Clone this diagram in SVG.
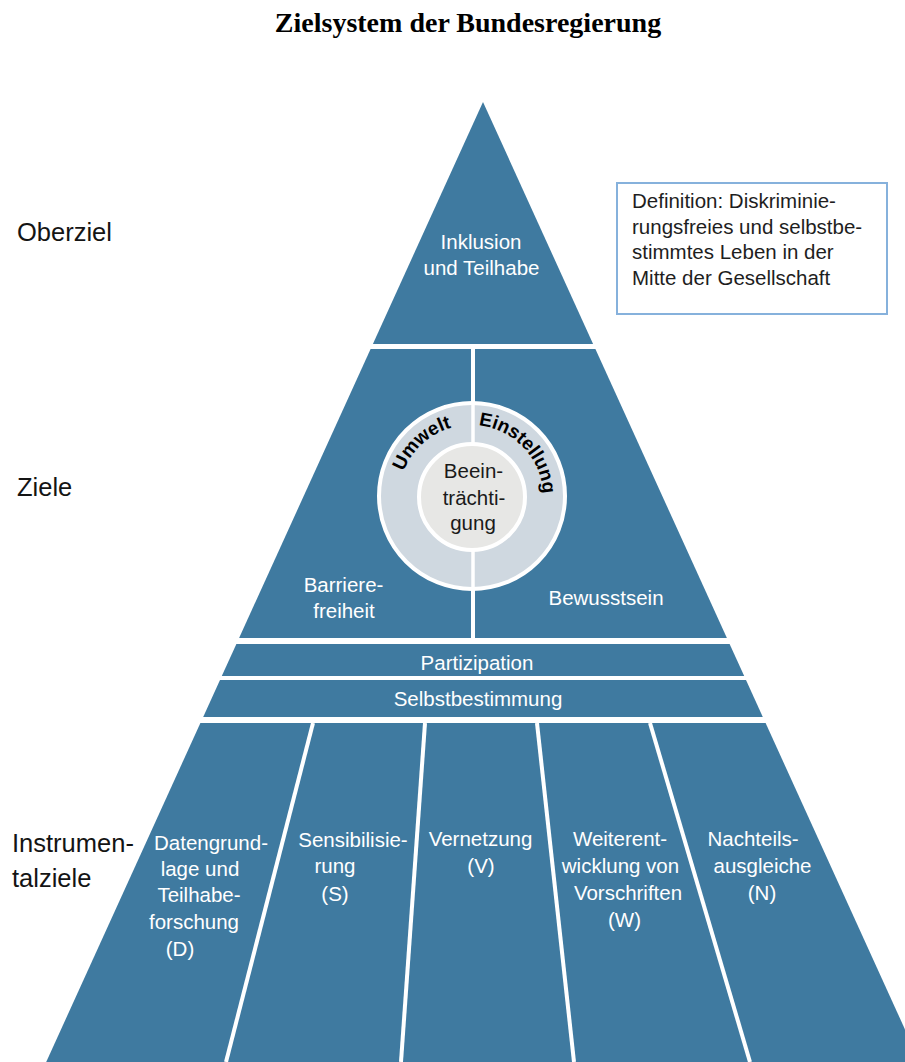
<svg xmlns="http://www.w3.org/2000/svg" xmlns:xlink="http://www.w3.org/1999/xlink" width="905" height="1062" viewBox="0 0 905 1062">
  <style>
    .blk { fill: #3f7aa0; }
    .wt { font-family: "Liberation Sans", Arial, sans-serif; font-size: 20.5px; fill: #ffffff; text-anchor: middle; }
    .lbl { font-family: "Liberation Sans", Arial, sans-serif; font-size: 25.5px; fill: #141414; }
    .def { font-family: "Liberation Sans", Arial, sans-serif; font-size: 20.5px; fill: #1e1e1e; }
    .dk { font-family: "Liberation Sans", Arial, sans-serif; font-size: 20.5px; fill: #1a1a1a; text-anchor: middle; }
    .arc { font-family: "Liberation Sans", Arial, sans-serif; font-size: 19px; font-weight: bold; fill: #000000; }
    .sep { stroke: #ffffff; stroke-width: 4; fill: none; }
  </style>
  <defs>
    <path id="ringPath" d="M 420.1 547.9 A 72 72 0 1 1 521.9 547.9"/>
  </defs>
  <rect x="0" y="0" width="905" height="1062" fill="#ffffff"/>

  <text id="title" x="468" y="32" font-family="'Liberation Serif', 'Times New Roman', serif" font-size="28" font-weight="bold" text-anchor="middle" fill="#000000">Zielsystem der Bundesregierung</text>

  <g id="level-labels">
    <text class="lbl" x="17" y="241">Oberziel</text>
    <text class="lbl" x="17" y="496">Ziele</text>
    <text class="lbl" x="12" y="852">Instrumen-</text>
    <text class="lbl" x="12" y="887">talziele</text>
  </g>

  <g id="oberziel">
    <polygon class="blk" points="483,102 372.9,344 593.1,344"/>
    <text class="wt" x="481" y="249">Inklusion</text>
    <text class="wt" x="481.5" y="275">und Teilhabe</text>
  </g>

  <g id="definition">
    <rect x="617" y="183" width="270" height="131" fill="#ffffff" stroke="#86b1dc" stroke-width="2"/>
    <text class="def" x="632" y="208">Definition: Diskriminie-</text>
    <text class="def" x="632" y="233.5">rungsfreies und selbstbe-</text>
    <text class="def" x="632" y="259">stimmtes Leben in der</text>
    <text class="def" x="632" y="284.5">Mitte der Gesellschaft</text>
  </g>

  <g id="ziele">
    <polygon class="blk" points="370.6,349 595.4,349 726.9,638 239.1,638"/>
    <text class="wt" x="343.5" y="591.5">Barriere-</text>
    <text class="wt" x="344" y="618">freiheit</text>
    <text class="wt" x="606" y="605">Bewusstsein</text>
  </g>

  <g id="umwelt-einstellung">
    <circle cx="472" cy="496" r="93" fill="#cfd8e0" stroke="#ffffff" stroke-width="4"/>
    <line x1="473" y1="404" x2="473" y2="588" stroke="#ffffff" stroke-width="3.5"/>
    <text class="arc"><textPath xlink:href="#ringPath" href="#ringPath" startOffset="116" text-anchor="middle">Umwelt</textPath></text>
    <text class="arc"><textPath xlink:href="#ringPath" href="#ringPath" startOffset="228" text-anchor="middle">Einstellung</textPath></text>
  </g>

  <g id="beeintraechtigung">
    <circle cx="472" cy="497" r="53" fill="#e7e7e5" stroke="#ffffff" stroke-width="4"/>
    <text class="dk" x="473.5" y="478">Beein-</text>
    <text class="dk" x="474" y="505">trächti-</text>
    <text class="dk" x="473" y="530">gung</text>
  </g>

  <g id="partizipation">
    <polygon class="blk" points="236.4,644 729.6,644 744.2,676 221.8,676"/>
    <text class="wt" x="477" y="670">Partizipation</text>
  </g>

  <g id="selbstbestimmung">
    <polygon class="blk" points="220,680 746,680 762.8,717 203.2,717"/>
    <text class="wt" x="478" y="706">Selbstbestimmung</text>
  </g>

  <g id="col-d">
    <polygon class="blk" points="200.4,723 313,723 226,1062 46.2,1062"/>
    <text class="wt" x="211" y="850">Datengrund-</text>
    <text class="wt" x="200" y="876">lage und</text>
    <text class="wt" x="199" y="902">Teilhabe-</text>
    <text class="wt" x="194" y="929">forschung</text>
    <text class="wt" x="180" y="956">(D)</text>
  </g>

  <g id="col-s">
    <polygon class="blk" points="313,723 425,723 401,1062 226,1062"/>
    <text class="wt" x="353" y="847">Sensibilisie-</text>
    <text class="wt" x="335" y="873">rung</text>
    <text class="wt" x="335" y="901">(S)</text>
  </g>

  <g id="col-v">
    <polygon class="blk" points="425,723 537,723 574,1062 401,1062"/>
    <text class="wt" x="480.5" y="846">Vernetzung</text>
    <text class="wt" x="481" y="873">(V)</text>
  </g>

  <g id="col-w">
    <polygon class="blk" points="537,723 650,723 750,1062 574,1062"/>
    <text class="wt" x="620" y="846">Weiterent-</text>
    <text class="wt" x="620.5" y="873">wicklung von</text>
    <text class="wt" x="628" y="900">Vorschriften</text>
    <text class="wt" x="624.5" y="927">(W)</text>
  </g>

  <g id="col-n">
    <polygon class="blk" points="650,723 765.6,723 919.8,1062 750,1062"/>
    <text class="wt" x="753" y="846">Nachteils-</text>
    <text class="wt" x="762.5" y="873">ausgleiche</text>
    <text class="wt" x="762" y="900">(N)</text>
  </g>

  <g id="connectors">
    <line class="sep" x1="473" y1="349" x2="473" y2="404" stroke-width="3.5"/>
    <line class="sep" x1="473" y1="588" x2="473" y2="638" stroke-width="3.5"/>
    <line class="sep" x1="313" y1="723" x2="226" y2="1062"/>
    <line class="sep" x1="425" y1="723" x2="401" y2="1062"/>
    <line class="sep" x1="537" y1="723" x2="574" y2="1062"/>
    <line class="sep" x1="650" y1="723" x2="750" y2="1062"/>
  </g>
</svg>
